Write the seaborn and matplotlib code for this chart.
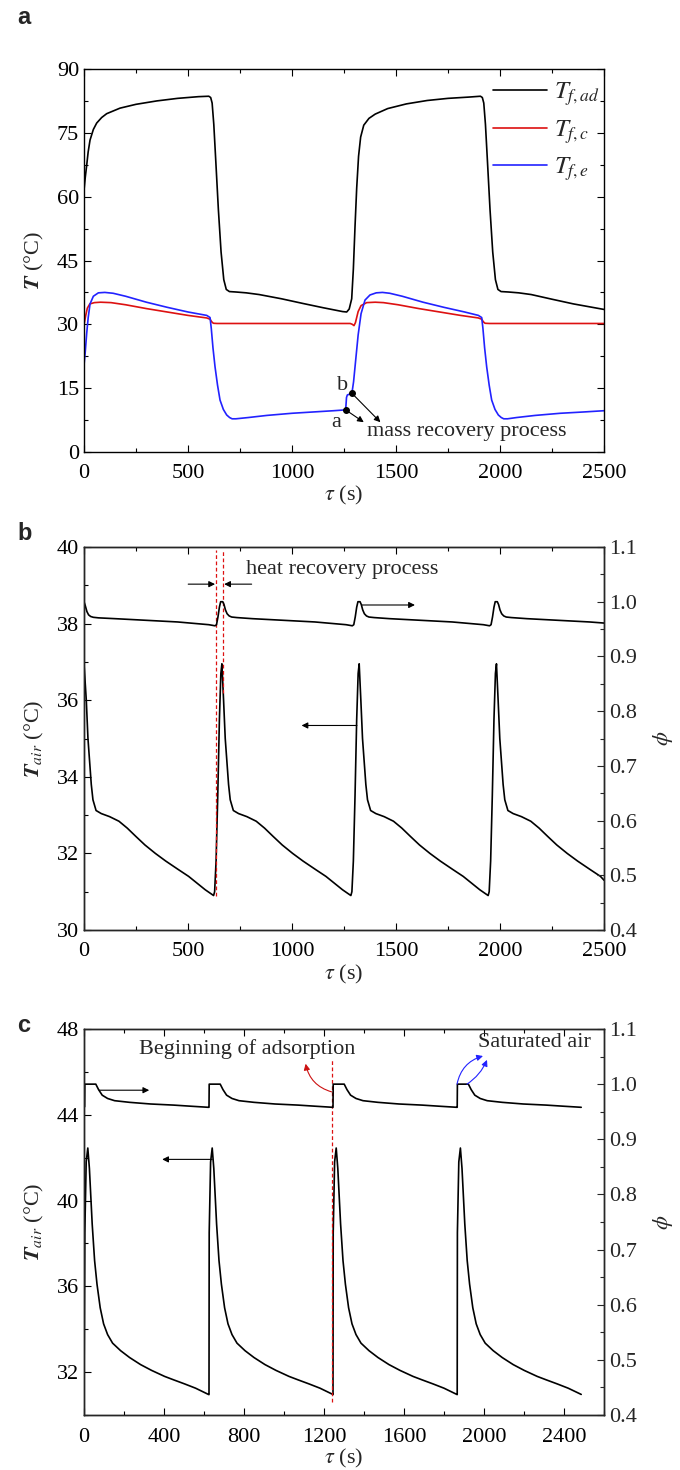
import numpy as np
import matplotlib.pyplot as plt
import seaborn as sns
from matplotlib.ticker import MultipleLocator, FormatStrFormatter

# ---------------- panel a: fluid temperatures ----------------
a_t_ad = [0, 6, 13, 20, 29, 45, 61, 85, 109, 173, 250, 350, 450, 550, 600, 609, 616, 624, 634, 646,
          659, 672, 684, 699, 730, 780, 842, 950, 1053, 1150, 1243, 1263, 1275, 1287, 1295, 1303,
          1311, 1320, 1330, 1345, 1370, 1400, 1460, 1550, 1650, 1750, 1850, 1906, 1915, 1922, 1930,
          1940, 1952, 1965, 1978, 1990, 2005, 2040, 2090, 2150, 2250, 2353, 2500]
a_T_ad = [61.5, 64.5, 67.4, 70.5, 73.3, 75.8, 77.3, 78.6, 79.5, 80.8, 81.7, 82.5, 83.1, 83.5, 83.6, 83.3,
          82.0, 77.0, 68.0, 57.0, 47.0, 40.5, 38.2, 37.7, 37.6, 37.4, 37.0, 36.0, 34.9, 33.9, 33.0, 32.9,
          33.6, 36.0, 43.0, 53.0, 62.0, 69.5, 74.0, 76.8, 78.4, 79.4, 80.7, 81.8, 82.6, 83.1, 83.4, 83.6,
          83.3, 82.0, 77.0, 68.0, 57.0, 47.0, 40.5, 38.2, 37.7, 37.6, 37.4, 37.0, 35.9, 34.8, 33.5]

a_t_c = [0, 8, 16, 28, 50, 80, 130, 200, 300, 400, 500, 590, 606, 614, 622, 640, 1000, 1280, 1290,
         1298, 1305, 1318, 1332, 1359, 1400, 1440, 1510, 1610, 1710, 1810, 1896, 1912, 1920, 1928,
         1950, 2500]
a_T_c = [29.9, 32.0, 33.8, 34.8, 35.1, 35.2, 35.1, 34.6, 33.7, 32.9, 32.1, 31.5, 31.2, 30.6, 30.25,
         30.2, 30.2, 30.2, 30.0, 29.7, 30.4, 33.0, 34.4, 35.1, 35.2, 35.1, 34.6, 33.7, 32.9, 32.1,
         31.5, 31.2, 30.6, 30.25, 30.2, 30.2]

a_t_e = [0, 6, 13, 20, 29, 45, 69, 100, 140, 200, 300, 400, 500, 590, 606, 612, 620, 630, 642, 654,
         670, 686, 700, 712, 730, 790, 880, 1000, 1100, 1200, 1258, 1262, 1266, 1288, 1296, 1306,
         1318, 1332, 1351, 1375, 1405, 1435, 1470, 1530, 1630, 1730, 1830, 1896, 1912, 1918, 1926,
         1936, 1948, 1960, 1976, 1992, 2006, 2018, 2036, 2080, 2170, 2290, 2400, 2500]
a_T_e = [20.4, 23.5, 27.9, 31.5, 34.8, 36.6, 37.4, 37.5, 37.3, 36.6, 35.2, 34.0, 32.9, 32.1, 31.6,
         29.0, 24.5, 20.0, 15.7, 12.2, 10.0, 8.7, 8.1, 7.8, 7.8, 8.1, 8.6, 9.1, 9.4, 9.7, 9.9, 12.8,
         13.4, 13.8, 16.5, 21.5, 27.5, 32.5, 35.7, 36.9, 37.4, 37.5, 37.3, 36.6, 35.2, 34.0, 32.9,
         32.1, 31.6, 29.0, 24.5, 20.0, 15.7, 12.2, 10.0, 8.7, 8.1, 7.8, 7.8, 8.1, 8.6, 9.1, 9.4, 9.7]

a_points_t = [1258, 1288]
a_points_T = [9.9, 13.8]

# ---------------- panel b: air temperature and humidity ----------------
b_t_air = [0, 11, 19, 27, 35, 43, 58, 83, 123, 168, 208, 248, 293, 343, 393, 453, 503, 583, 623,
           628, 635, 643, 651, 658, 663,
           671, 679, 687, 695, 703, 718, 743, 783, 828, 868, 908, 953, 1003, 1053, 1113, 1163, 1243,
           1283, 1288, 1295, 1303, 1311, 1318, 1323,
           1331, 1339, 1347, 1355, 1363, 1378, 1403, 1443, 1488, 1528, 1568, 1613, 1663, 1713, 1773,
           1823, 1903, 1943, 1948, 1955, 1963, 1971, 1978, 1983,
           1991, 1999, 2007, 2015, 2023, 2038, 2063, 2103, 2148, 2188, 2228, 2273, 2323, 2373, 2433,
           2483, 2500]
b_T_air = [36.95, 36.0, 35.0, 34.4, 33.8, 33.4, 33.12, 33.04, 32.96, 32.84, 32.66, 32.45, 32.22, 32.0,
           31.8, 31.58, 31.4, 31.05, 30.9, 31.0, 31.8, 33.5, 35.5, 36.7, 36.95,
           36.0, 35.0, 34.4, 33.8, 33.4, 33.12, 33.04, 32.96, 32.84, 32.66, 32.45, 32.22, 32.0, 31.8,
           31.58, 31.4, 31.05, 30.9, 31.0, 31.8, 33.5, 35.5, 36.7, 36.95,
           36.0, 35.0, 34.4, 33.8, 33.4, 33.12, 33.04, 32.96, 32.84, 32.66, 32.45, 32.22, 32.0, 31.8,
           31.58, 31.4, 31.05, 30.9, 31.0, 31.8, 33.5, 35.5, 36.7, 36.95,
           36.0, 35.0, 34.4, 33.8, 33.4, 33.12, 33.04, 32.96, 32.84, 32.66, 32.45, 32.22, 32.0, 31.8,
           31.58, 31.4, 31.3]

b_t_phi = [0, 6, 14, 22, 32, 45, 70, 150, 300, 450, 600, 630, 637, 644, 651, 657,
           667, 673, 680, 688, 698, 710, 735, 810, 960, 1110, 1260, 1290, 1297, 1304, 1311, 1317,
           1327, 1333, 1340, 1348, 1358, 1370, 1395, 1470, 1620, 1770, 1920, 1950, 1957, 1964, 1971,
           1977, 1987, 1993, 2000, 2008, 2018, 2030, 2055, 2130, 2280, 2430, 2500]
b_phi = [1.0, 0.993, 0.982, 0.976, 0.973, 0.9715, 0.9705, 0.969, 0.966, 0.963, 0.958, 0.956, 0.958,
         0.972, 0.99, 1.0, 1.0, 0.995, 0.985, 0.978, 0.974, 0.972, 0.971, 0.969, 0.966, 0.963, 0.958,
         0.956, 0.958, 0.972, 0.99, 1.0, 1.0, 0.995, 0.985, 0.978, 0.974, 0.972, 0.971, 0.969, 0.966,
         0.963, 0.958, 0.956, 0.958, 0.972, 0.99, 1.0, 1.0, 0.995, 0.985, 0.978, 0.974, 0.972, 0.971,
         0.969, 0.966, 0.963, 0.961]

# ---------------- panel c: air temperature and humidity ----------------
c_t_air = [0, 4, 11, 19, 27, 41, 53, 65, 81, 98, 118, 143, 183, 228, 283, 338, 403, 448, 503, 558, 622,
           625, 626, 633, 641, 649, 663, 675, 687, 703, 720, 740, 765, 805, 850, 905, 960, 1025, 1070,
           1125, 1180, 1244,
           1245, 1246, 1253, 1261, 1269, 1283, 1295, 1307, 1323, 1340, 1360, 1385, 1425, 1470, 1525,
           1580, 1645, 1690, 1745, 1800, 1864,
           1866, 1867, 1874, 1882, 1890, 1904, 1916, 1928, 1944, 1961, 1981, 2006, 2046, 2091, 2146,
           2201, 2266, 2311, 2366, 2421, 2486]
c_T_air = [31.0, 38.5, 41.8, 42.45, 41.5, 38.9, 37.2, 36.1, 35.0, 34.25, 33.75, 33.35, 33.0, 32.68,
           32.35, 32.08, 31.8, 31.64, 31.45, 31.25, 30.96,
           30.95, 38.5, 41.8, 42.45, 41.5, 38.9, 37.2, 36.1, 35.0, 34.25, 33.75, 33.35, 33.0, 32.68,
           32.35, 32.08, 31.8, 31.64, 31.45, 31.25, 30.96,
           30.95, 38.5, 41.8, 42.45, 41.5, 38.9, 37.2, 36.1, 35.0, 34.25, 33.75, 33.35, 33.0, 32.68,
           32.35, 32.08, 31.8, 31.64, 31.45, 31.25, 30.96,
           30.95, 38.5, 41.8, 42.45, 41.5, 38.9, 37.2, 36.1, 35.0, 34.25, 33.75, 33.35, 33.0, 32.68,
           32.35, 32.08, 31.8, 31.64, 31.45, 31.25, 30.96]

c_t_phi = [0, 3, 4, 59, 73, 91, 118, 153, 228, 333, 448, 533, 622,
           625, 626, 681, 695, 713, 740, 775, 850, 955, 1070, 1155, 1244,
           1245, 1246, 1301, 1315, 1333, 1360, 1395, 1470, 1575, 1690, 1775, 1865,
           1866, 1867, 1922, 1936, 1954, 1981, 2016, 2091, 2196, 2311, 2396, 2486]
c_phi = [0.959, 0.959, 1.0, 1.0, 0.99, 0.98, 0.974, 0.970, 0.967, 0.964, 0.962, 0.960, 0.958,
         0.958, 1.0, 1.0, 0.99, 0.98, 0.974, 0.970, 0.967, 0.964, 0.962, 0.960, 0.958,
         0.958, 1.0, 1.0, 0.99, 0.98, 0.974, 0.970, 0.967, 0.964, 0.962, 0.960, 0.958,
         0.958, 1.0, 1.0, 0.99, 0.98, 0.974, 0.970, 0.967, 0.964, 0.962, 0.960, 0.958]

sns.set_style('ticks')
plt.rcParams['font.family'] = ['Liberation Serif', 'DejaVu Serif']
plt.rcParams['mathtext.fontset'] = 'stix'
plt.rcParams['axes.linewidth'] = 1.0

RED = '#dd1111'
BLUE = '#2222ff'
LW = 1.2
FS = 16
TFS = 16


def style(ax, right=True):
    ax.tick_params(which='both', direction='in', top=True, right=right, labelsize=FS,
                   width=0.8, colors='k')
    ax.tick_params(which='major', length=5)
    ax.tick_params(which='minor', length=3)
    ax.tick_params(axis='x', which='major', pad=9)
    for s in ax.spines.values():
        s.set_color('k')


def style_twin(ax):
    ax.set_ylim(0.4, 1.1)
    ax.yaxis.set_major_locator(MultipleLocator(0.1))
    ax.yaxis.set_minor_locator(MultipleLocator(0.05))
    ax.yaxis.set_major_formatter(FormatStrFormatter('%.1f'))
    ax.tick_params(which='both', direction='in', labelsize=FS, width=0.8)
    ax.tick_params(which='major', length=5, pad=4)
    ax.tick_params(which='minor', length=3)
    ax.set_ylabel(r'$\phi$', fontsize=16, labelpad=10)


def arrow(ax, start, end, color='k', rad=0.0):
    ax.annotate('', xy=end, xytext=start,
                arrowprops=dict(arrowstyle='-|>', color=color, lw=0.8, mutation_scale=9,
                                shrinkA=0, shrinkB=0, connectionstyle=f'arc3,rad={rad}'))


fig = plt.figure(figsize=(6.8, 14.7), dpi=100)
L, W = 84 / 680, 520 / 680
ax_a = fig.add_axes([L, 1 - 452 / 1470, W, 383 / 1470])
ax_b = fig.add_axes([L, 1 - 930 / 1470, W, 383 / 1470])
ax_c = fig.add_axes([L, 1 - 1415 / 1470, W, 386 / 1470])

# ---- a ----
sns.lineplot(x=a_t_ad, y=a_T_ad, ax=ax_a, color='k', lw=LW, estimator=None, sort=False,
             label=r'$T_{f,ad}$')
sns.lineplot(x=a_t_c, y=a_T_c, ax=ax_a, color=RED, lw=LW, estimator=None, sort=False,
             label=r'$T_{f,c}$')
sns.lineplot(x=a_t_e, y=a_T_e, ax=ax_a, color=BLUE, lw=LW, estimator=None, sort=False,
             label=r'$T_{f,e}$')
ax_a.plot(a_points_t, a_points_T, 'o', color='k', ms=4, zorder=5)
arrow(ax_a, (a_points_t[0], a_points_T[0]), (1345, 7.0))
arrow(ax_a, (a_points_t[1], a_points_T[1]), (1425, 7.0))
ax_a.text(1213, 7.0, 'a', fontsize=TFS, ha='center', va='center')
ax_a.text(1243, 15.6, 'b', fontsize=TFS, ha='center', va='center')
ax_a.text(1360, 4.9, 'mass recovery process', fontsize=TFS, ha='left', va='center')
ax_a.set_xlim(0, 2500)
ax_a.set_ylim(0, 90)
ax_a.xaxis.set_major_locator(MultipleLocator(500))
ax_a.xaxis.set_minor_locator(MultipleLocator(250))
ax_a.yaxis.set_major_locator(MultipleLocator(15))
ax_a.yaxis.set_minor_locator(MultipleLocator(7.5))
style(ax_a)
ax_a.set_xlabel(r'$\tau$ (s)', fontsize=16, labelpad=0)
ax_a.set_ylabel(r'$\mathbfit{T}$ (°C)', fontsize=16, labelpad=8)
ax_a.legend(loc='upper right', bbox_to_anchor=(1.035, 1.03), frameon=False, fontsize=18,
            handlelength=2.15, labelspacing=0.4, handletextpad=0.3)
fig.text(17 / 680, 1 - 18 / 1470, 'a', fontsize=17, fontweight='bold', family='Liberation Sans',
         ha='left', va='center')

# ---- b ----
sns.lineplot(x=b_t_air, y=b_T_air, ax=ax_b, color='k', lw=LW, estimator=None, sort=False)
ax_b.set_xlim(0, 2500)
ax_b.set_ylim(30, 40)
ax_b.xaxis.set_major_locator(MultipleLocator(500))
ax_b.xaxis.set_minor_locator(MultipleLocator(250))
ax_b.yaxis.set_major_locator(MultipleLocator(2))
ax_b.yaxis.set_minor_locator(MultipleLocator(1))
style(ax_b, right=False)
ax_b.plot([633, 633], [30.9, 39.92], ls=(0, (3, 2)), color=RED, lw=0.9)
ax_b.plot([670, 670], [36.2, 39.92], ls=(0, (3, 2)), color=RED, lw=0.9)
arrow(ax_b, (501, 39.03), (630, 39.03))
arrow(ax_b, (806, 39.03), (674, 39.03))
ax_b.text(778, 39.4, 'heat recovery process', fontsize=TFS, ha='left', va='center')
arrow(ax_b, (1312, 35.34), (1046, 35.34))
ax_b.set_xlabel(r'$\tau$ (s)', fontsize=16, labelpad=1)
ax_b.set_ylabel(r'$\mathbfit{T}_{air}$ (°C)', fontsize=16, labelpad=8)

bx = ax_b.twinx()
sns.lineplot(x=b_t_phi, y=b_phi, ax=bx, color='k', lw=LW, estimator=None, sort=False)
style_twin(bx)
arrow(bx, (1335, 0.994), (1591, 0.994))
fig.text(17 / 680, 1 - 533 / 1470, 'b', fontsize=17, fontweight='bold', family='Liberation Sans',
         ha='left', va='center')

# ---- c ----
sns.lineplot(x=c_t_air, y=c_T_air, ax=ax_c, color='k', lw=LW, estimator=None, sort=False)
ax_c.set_xlim(0, 2600)
ax_c.set_ylim(30, 48)
ax_c.set_yticks([32, 36, 40, 44, 48])
ax_c.xaxis.set_major_locator(MultipleLocator(400))
ax_c.xaxis.set_minor_locator(MultipleLocator(200))
ax_c.yaxis.set_minor_locator(MultipleLocator(2))
style(ax_c, right=False)
ax_c.plot([1240, 1240], [30.6, 46.6], ls=(0, (3, 2)), color=RED, lw=0.9)
arrow(ax_c, (641, 41.92), (391, 41.92))
ax_c.set_xlabel(r'$\tau$ (s)', fontsize=16, labelpad=0)
ax_c.set_ylabel(r'$\mathbfit{T}_{air}$ (°C)', fontsize=16, labelpad=8)

cx = ax_c.twinx()
sns.lineplot(x=c_t_phi, y=c_phi, ax=cx, color='k', lw=LW, estimator=None, sort=False)
style_twin(cx)
arrow(cx, (76, 0.989), (326, 0.989))
arrow(cx, (1238, 0.986), (1108, 1.037), color='#cc1111', rad=-0.3)
arrow(cx, (1865, 1.0), (1995, 1.051), color=BLUE, rad=-0.3)
arrow(cx, (1915, 1.0), (2015, 1.044), color=BLUE, rad=0.15)
cx.text(816, 1.063, 'Beginning of adsorption', fontsize=TFS, ha='center', va='center')
cx.text(2250, 1.075, 'Saturated air', fontsize=TFS, ha='center', va='center')
fig.text(17 / 680, 1 - 1025 / 1470, 'c', fontsize=17, fontweight='bold', family='Liberation Sans',
         ha='left', va='center')

fig.savefig('out.png', dpi=100)
